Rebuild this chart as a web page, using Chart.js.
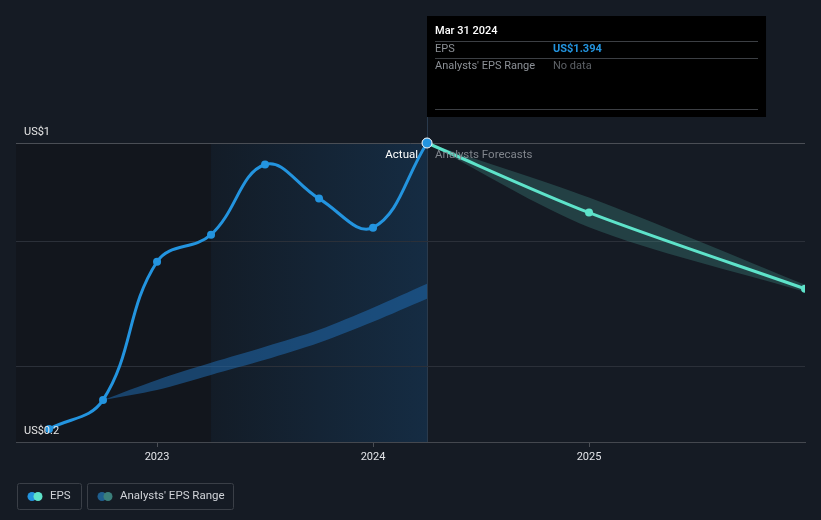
<!DOCTYPE html>
<html>
<head>
<meta charset="utf-8">
<script src="https://cdn.jsdelivr.net/npm/chart.js@4"></script>
<style>
  html, body { margin: 0; padding: 0; background: #151b24; }
  #wrap { width: 821px; height: 520px; position: relative; }
  canvas { display: block; }
</style>
</head>
<body>
<div id="wrap"><canvas id="c" width="821" height="520"></canvas></div>
<script>
// ---- data ----
const actualDates = ['2022-06-30','2022-09-30','2022-12-31','2023-03-31','2023-06-30','2023-09-30','2023-12-31','2024-03-31'];
const actualEPS   = [0.252, 0.368, 0.920, 1.028, 1.308, 1.172, 1.056, 1.394];

const forecastDates = ['2024-03-31','2024-12-31','2025-12-31'];
const forecastEPS   = [1.394, 1.116, 0.812];
const forecastHigh  = [1.394, 1.176, 0.828];
const forecastLow   = [1.394, 1.058, 0.800];

const pastRangeDates = ['2022-09-30','2022-12-31','2023-03-31','2023-06-30','2023-09-30','2023-12-31','2024-03-31'];
const pastRangeHigh  = [0.368, 0.448, 0.516, 0.580, 0.648, 0.736, 0.832];
const pastRangeLow   = [0.368, 0.408, 0.468, 0.528, 0.596, 0.680, 0.772];

const xTicks = [2023, 2024, 2025];
const xTickLabels = ['2023', '2024', '2025'];
const yTicks = [0.2, 0.5, 1.0, 1.394];
const yTickLabels = ['US$0.2', '', '', 'US$1'];

const highlightStart = '2023-03-31';
const highlightEnd = '2024-03-31';
const tooltipTitle = 'Mar 31 2024';
const tooltipRows = [['EPS', 'US$1.394'], ["Analysts' EPS Range", 'No data']];
const legendItems = ['EPS', "Analysts' EPS Range"];

// ---- helpers ----
function dec(d) {
  const [y, m, day] = d.split('-').map(Number);
  const dim = new Date(y, m, 0).getDate();
  return y + (m - 1 + day / dim) / 12;
}
function pts(dates, vals) { return dates.map((d, i) => ({ x: dec(d), y: vals[i] })); }

const FONT = "Roboto, 'Open Sans', 'DejaVu Sans', sans-serif";
const BLUE = '#2394df';
const TEAL = '#5ee3ca';

const bgPlugin = {
  id: 'bg',
  beforeDraw(chart) {
    const { ctx, chartArea: a, scales: { x } } = chart;
    const x1 = x.getPixelForValue(dec(highlightStart));
    const x2 = x.getPixelForValue(dec(highlightEnd));
    ctx.save();
    ctx.fillStyle = '#12161d';
    ctx.fillRect(a.left, a.top, x1 - a.left, a.bottom - a.top);
    const g = ctx.createLinearGradient(x1, 0, x2, 0);
    g.addColorStop(0, '#131c27');
    g.addColorStop(1, '#152c43');
    ctx.fillStyle = g;
    ctx.fillRect(x1, a.top, x2 - x1, a.bottom - a.top);
    // vertical line
    ctx.strokeStyle = '#2a3a4c';
    ctx.lineWidth = 1;
    ctx.beginPath();
    ctx.moveTo(Math.round(x2) + 0.5, 117);
    ctx.lineTo(Math.round(x2) + 0.5, a.bottom);
    ctx.stroke();
    ctx.restore();
  },
  afterDraw(chart) {
    const { ctx, chartArea: a, scales: { x, y } } = chart;
    ctx.save();
    // y labels
    ctx.font = '11px ' + FONT;
    ctx.fillStyle = '#e6e6e6';
    ctx.textAlign = 'left';
    ctx.textBaseline = 'middle';
    yTicks.forEach((v, i) => {
      if (yTickLabels[i]) ctx.fillText(yTickLabels[i], 24, y.getPixelForValue(v) - 11);
    });
    // Actual / Forecast labels
    const xe = x.getPixelForValue(dec(highlightEnd));
    ctx.font = '11.5px ' + FONT;
    ctx.textAlign = 'right';
    ctx.fillStyle = '#ffffff';
    ctx.fillText('Actual', xe - 9, a.top + 12);
    ctx.textAlign = 'left';
    ctx.fillStyle = '#80858c';
    ctx.fillText('Analysts Forecasts', xe + 8, a.top + 12);
    // tooltip
    const tx = xe, ty = 16, tw = 339, th = 101;
    ctx.fillStyle = '#000000';
    ctx.fillRect(tx, ty, tw, th);
    ctx.fillStyle = '#ffffff';
    ctx.font = '500 11px ' + FONT;
    ctx.fillText(tooltipTitle, tx + 8, 31);
    ctx.strokeStyle = '#3c3f44';
    ctx.lineWidth = 1;
    [41, 58, 109].forEach(yy => {
      ctx.beginPath(); ctx.moveTo(tx + 8, yy + 0.5); ctx.lineTo(tx + tw - 8, yy + 0.5); ctx.stroke();
    });
    ctx.font = '11px ' + FONT;
    ctx.fillStyle = '#8c9096';
    ctx.fillText(tooltipRows[0][0], tx + 8, 49);
    ctx.fillText(tooltipRows[1][0], tx + 8, 66);
    ctx.font = 'bold 11px ' + FONT;
    ctx.fillStyle = '#2394df';
    ctx.fillText(tooltipRows[0][1], tx + 126, 49);
    ctx.font = '11px ' + FONT;
    ctx.fillStyle = '#5d6166';
    ctx.fillText(tooltipRows[1][1], tx + 126, 66);
    // legend
    const boxes = [[17, 64, [BLUE, TEAL]], [87, 146, ['#1f5f8f', '#3b7f7b']]];
    boxes.forEach(([bx, bw, cols], i) => {
      ctx.strokeStyle = '#3a3f47';
      ctx.lineWidth = 1;
      ctx.beginPath();
      ctx.roundRect(bx + 0.5, 483.5, bw, 26, 2);
      ctx.stroke();
      ctx.fillStyle = cols[0];
      ctx.beginPath(); ctx.arc(bx + 15, 496.5, 4.5, 0, Math.PI * 2); ctx.fill();
      ctx.fillStyle = cols[1];
      ctx.beginPath(); ctx.arc(bx + 21, 496.5, 4.5, 0, Math.PI * 2); ctx.fill();
      ctx.fillStyle = '#d0d3d8';
      ctx.font = '11.5px ' + FONT;
      ctx.textAlign = 'left';
      ctx.fillText(legendItems[i], bx + 33, 496.5);
    });
    ctx.restore();
  }
};

const nA = actualEPS.length;
new Chart(document.getElementById('c'), {
  type: 'line',
  data: {
    datasets: [
      {
        label: 'EPS', data: pts(actualDates, actualEPS),
        borderColor: BLUE, borderWidth: 3, tension: 0.4,
        pointRadius: actualEPS.map((v, i) => i === nA - 1 ? 5 : 4),
        pointBackgroundColor: BLUE,
        pointBorderColor: actualEPS.map((v, i) => i === nA - 1 ? '#ffffff' : BLUE),
        pointBorderWidth: actualEPS.map((v, i) => i === nA - 1 ? 1 : 0),
        clip: 10,
        order: 0
      },
      {
        label: 'Forecast', data: pts(forecastDates, forecastEPS),
        borderColor: TEAL, borderWidth: 3, tension: 0.3,
        pointRadius: forecastEPS.map((v, i) => i === 0 ? 0 : 4),
        pointBackgroundColor: TEAL, pointBorderWidth: 0,
        clip: { left: 0, top: 10, right: 0, bottom: 0 },
        order: 1
      },
      {
        label: 'fHigh', data: pts(forecastDates, forecastHigh),
        borderWidth: 0, pointRadius: 0, tension: 0.3, fill: false, order: 5
      },
      {
        label: 'fLow', data: pts(forecastDates, forecastLow),
        borderWidth: 0, pointRadius: 0, tension: 0.3,
        fill: '-1', backgroundColor: 'rgba(72,160,150,0.28)', order: 5
      },
      {
        label: 'pHigh', data: pts(pastRangeDates, pastRangeHigh),
        borderWidth: 0, pointRadius: 0, tension: 0.3, fill: false, order: 6
      },
      {
        label: 'pLow', data: pts(pastRangeDates, pastRangeLow),
        borderWidth: 0, pointRadius: 0, tension: 0.3,
        fill: '-1', backgroundColor: 'rgba(32,112,185,0.5)', order: 6
      }
    ]
  },
  options: {
    responsive: false,
    animation: false,
    events: [],
    layout: { padding: { top: 143, left: 16, right: 16, bottom: 0 } },
    plugins: { legend: { display: false }, tooltip: { enabled: false } },
    scales: {
      x: {
        type: 'linear',
        min: 2022.347, max: 2026.0,
        afterBuildTicks: s => { s.ticks = xTicks.map(v => ({ value: v })); },
        afterFit: s => { s.height = 78; },
        ticks: {
          callback: (v) => xTickLabels[xTicks.indexOf(v)] ?? '',
          color: '#e2e4e8', font: { size: 11, family: FONT }, padding: 4, maxRotation: 0
        },
        grid: { drawOnChartArea: false, drawTicks: true, tickLength: 5, color: '#4a4e55' },
        border: { display: true, color: '#44484f', width: 1 }
      },
      y: {
        type: 'linear',
        min: 0.2, max: 1.394,
        afterBuildTicks: s => { s.ticks = yTicks.map(v => ({ value: v })); },
        afterFit: s => { s.width = 0; },
        ticks: { display: false },
        grid: {
          drawTicks: false,
          color: c => c.tick && c.tick.value === 1.394 ? '#4a4e55' : (c.tick && c.tick.value === 0.2 ? 'rgba(0,0,0,0)' : '#2b3039'),
          lineWidth: 1
        },
        border: { display: false }
      }
    }
  },
  plugins: [bgPlugin]
});
</script>
</body>
</html>
